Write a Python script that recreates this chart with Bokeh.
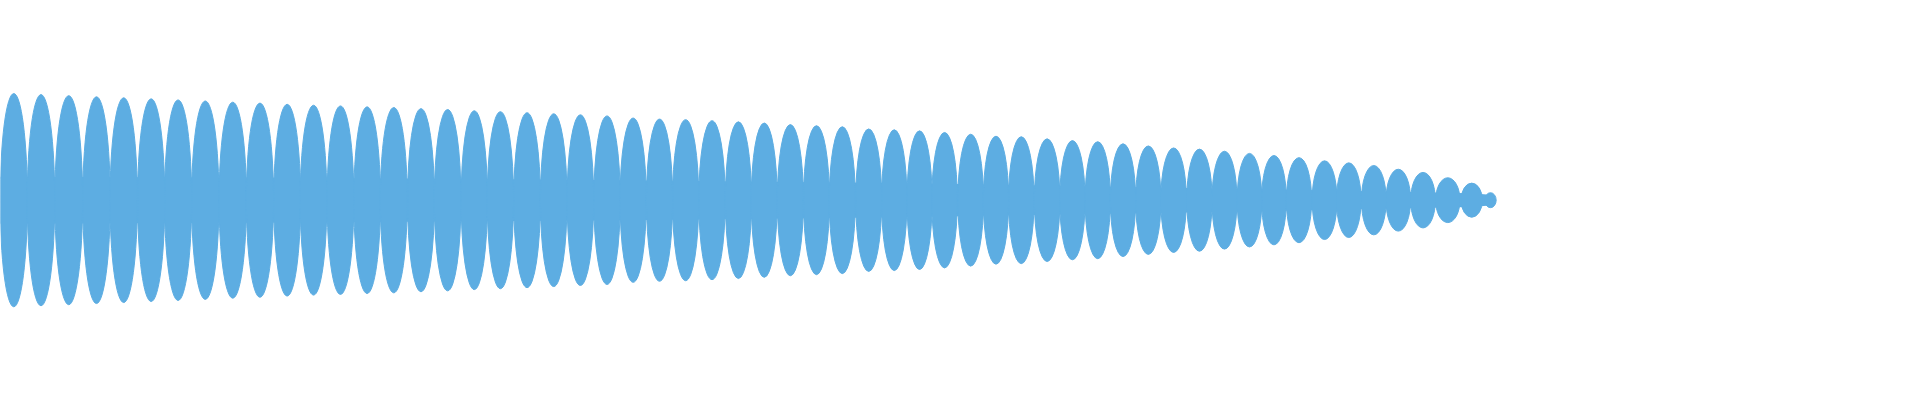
from bokeh.plotting import figure
from bokeh.models import Range1d, ColumnDataSource
from bokeh.embed import file_html
from bokeh.resources import INLINE

# Lobe centres (x) and amplitudes (half-heights)
lobe_x = [0.0, 1.00, 2.02, 3.04, 4.04, 5.05, 6.04, 7.04, 8.05, 9.05,
          10.05, 11.02, 12.01, 12.99, 13.97, 14.97, 15.95, 16.93, 17.89, 18.87,
          19.85, 20.83, 21.81, 22.77, 23.74, 24.70, 25.67, 26.64, 27.59, 28.55,
          29.51, 30.46, 31.43, 32.37, 33.30, 34.22, 35.18, 36.11, 37.04, 37.99,
          38.92, 39.85, 40.78, 41.71, 42.64, 43.59, 44.51, 45.43, 46.33, 47.25,
          48.19, 49.08, 50.00, 50.90, 51.81, 52.72, 53.60, 54.29]
lobe_amp = [1.0, 0.99, 0.98, 0.97, 0.96, 0.95, 0.94, 0.93, 0.92, 0.91,
            0.90, 0.89, 0.885, 0.875, 0.87, 0.86, 0.85, 0.84, 0.83, 0.82,
            0.81, 0.80, 0.79, 0.77, 0.76, 0.755, 0.745, 0.735, 0.725, 0.71,
            0.70, 0.69, 0.67, 0.66, 0.65, 0.635, 0.62, 0.60, 0.595, 0.575,
            0.56, 0.55, 0.53, 0.51, 0.49, 0.48, 0.46, 0.44, 0.42, 0.40,
            0.37, 0.35, 0.325, 0.29, 0.26, 0.21, 0.16, 0.07]

# Central band connecting the lobes
band_x = [-0.49, 10.54, 21.56, 32.59, 41.99, 47.5, 53.55, 54.29]
band_half = [0.22, 0.21, 0.19, 0.16, 0.12, 0.095, 0.065, 0.05]

COLOR = "#5DADE2"
W, H = 1904, 384
XR = (-0.489, 69.511)
YR = (-1.728, 1.872)
px_per_x = W / (XR[1] - XR[0])
px_per_y = H / (YR[1] - YR[0])

# ellipse widths (screen px) derived from local spacing, limited for the smallest lobes
widths = []
n = len(lobe_x)
for i in range(n):
    if i == 0:
        sp = lobe_x[1] - lobe_x[0]
    elif i == n - 1:
        sp = lobe_x[i] - lobe_x[i - 1]
    else:
        sp = (lobe_x[i + 1] - lobe_x[i - 1]) / 2
    w_px = min(1.0 * sp * px_per_x, 0.76 * 2 * lobe_amp[i] * px_per_y)
    widths.append(w_px)

src = ColumnDataSource(dict(x=lobe_x, y=[0] * n, w=widths,
                            h=[2 * a for a in lobe_amp]))

p = figure(width=W, height=H, output_backend="svg", toolbar_location=None,
           x_range=Range1d(*XR), y_range=Range1d(*YR), min_border=0)
p.axis.visible = False
p.grid.visible = False
p.outline_line_color = None
p.background_fill_color = "white"
p.border_fill_color = "white"

p.varea(x=band_x, y1=[-b for b in band_half], y2=band_half,
        fill_color=COLOR, fill_alpha=1.0)
p.ellipse(x="x", y="y", width="w", height="h", width_units="screen",
          source=src, fill_color=COLOR, line_color=COLOR, line_width=1)

open("out.html", "w").write(file_html(p, INLINE))
